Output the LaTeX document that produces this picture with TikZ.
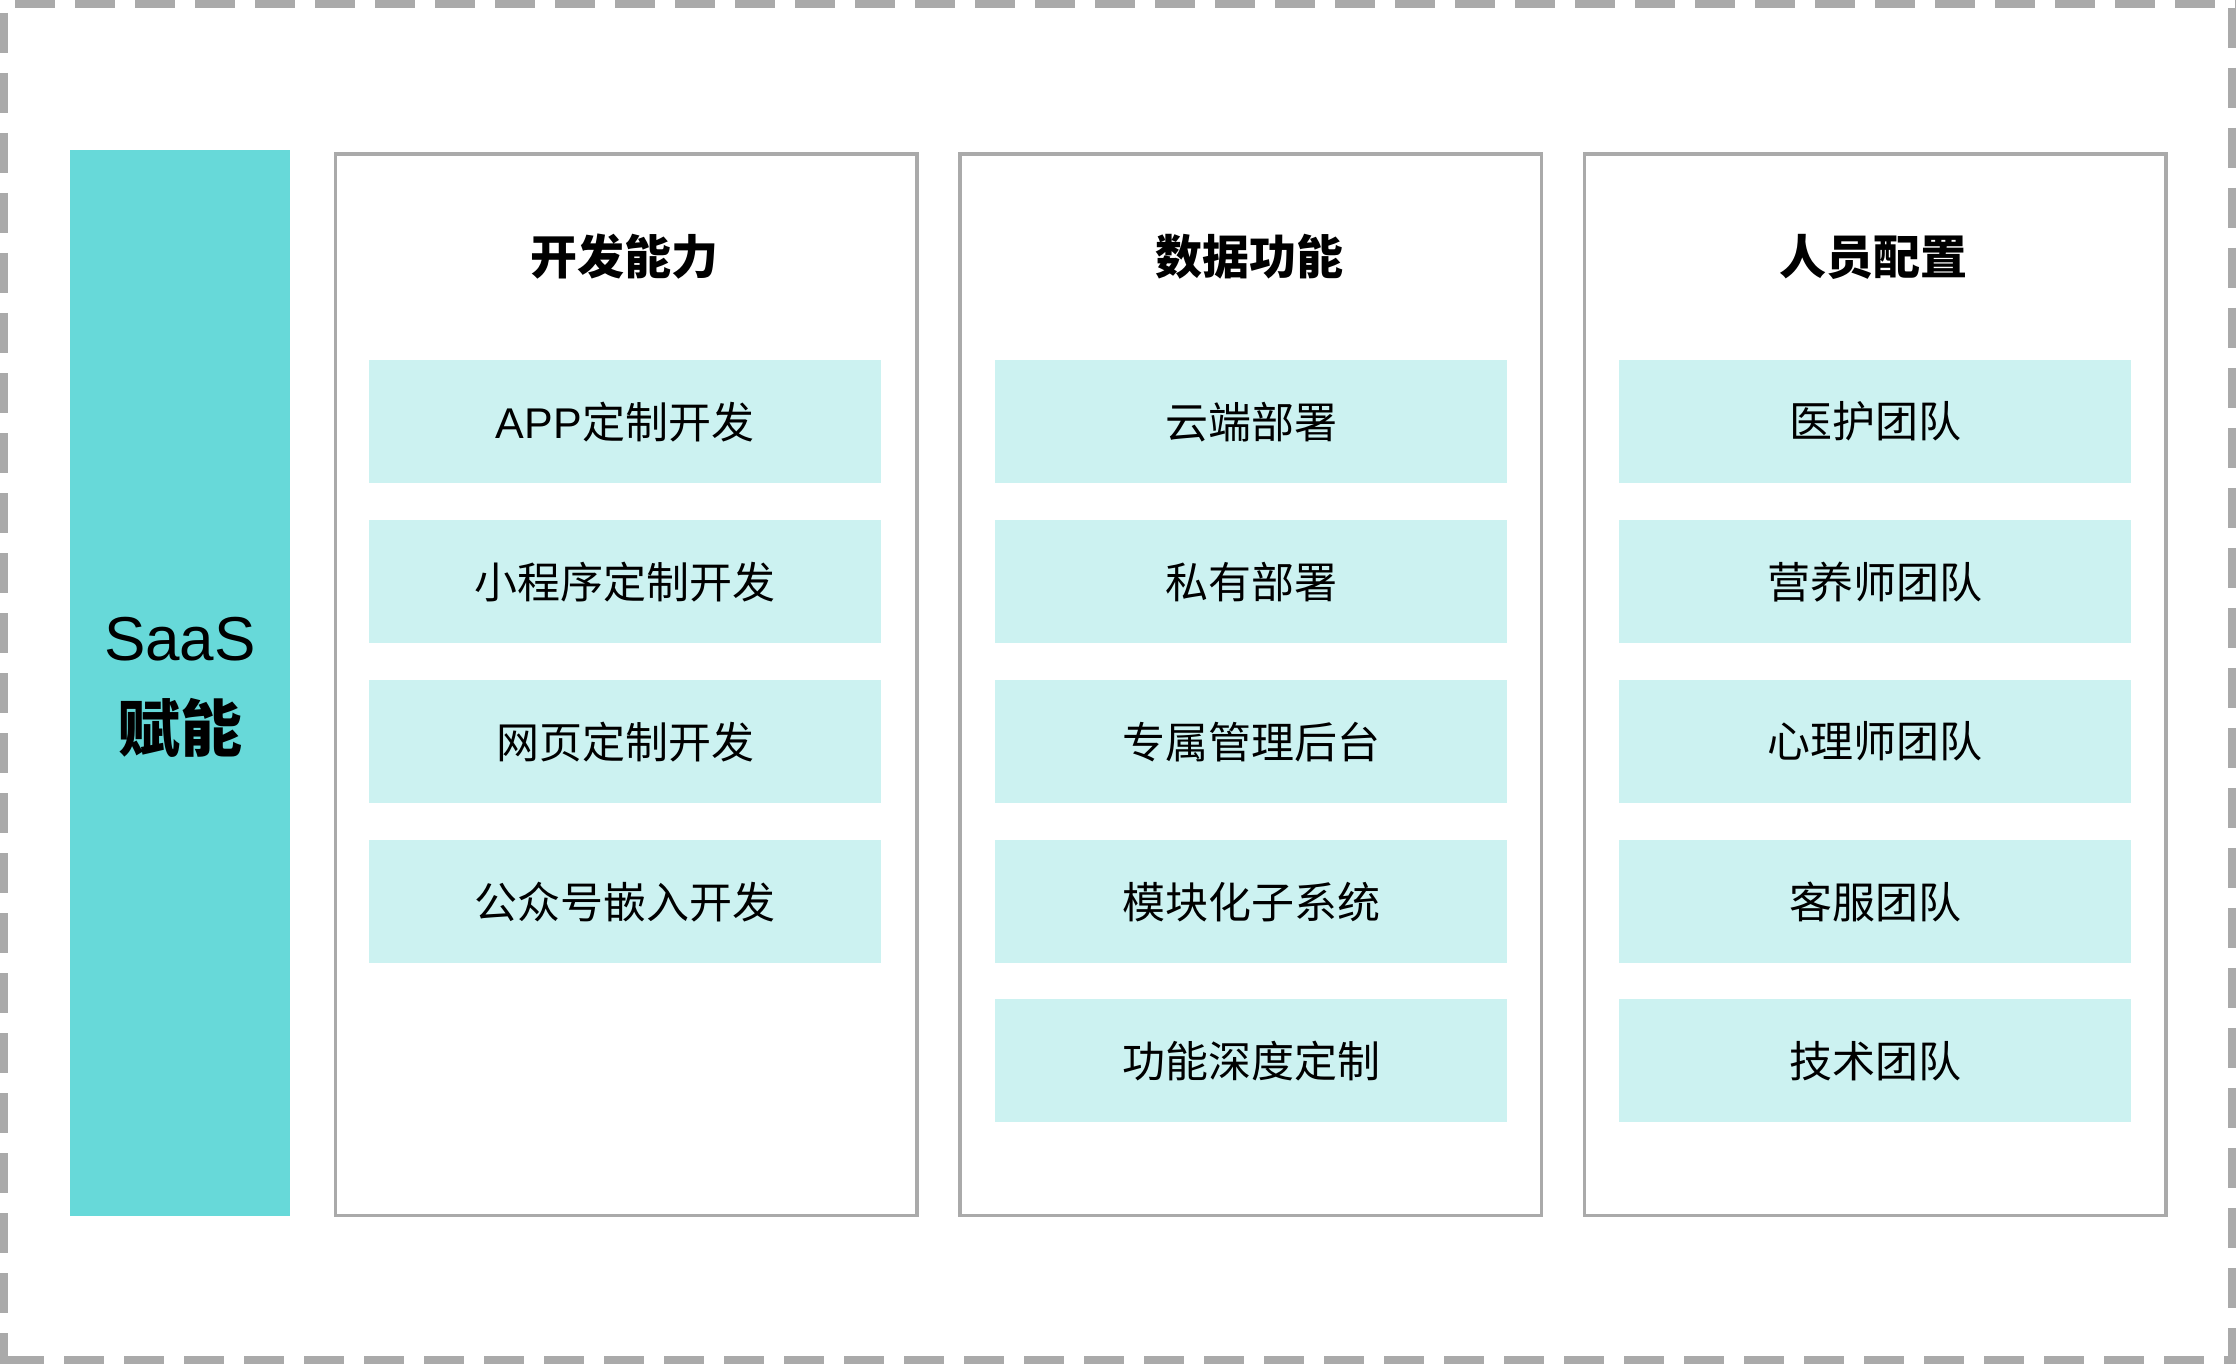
\documentclass[tikz,border=0pt]{standalone}
\usepackage{fontspec}
\setmainfont{Noto Sans CJK SC}
\newfontfamily\latinfont{Liberation Sans}
\definecolor{bordergray}{HTML}{AAAAAA}
\definecolor{tealbar}{HTML}{67D9D9}
\definecolor{itemfill}{HTML}{CCF2F1}
\begin{document}
\begin{tikzpicture}[x=1pt,y=-1pt,
  panelbox/.style={draw=bordergray, line width=3.5pt, fill=white, inner sep=0pt, minimum width=581.5pt, minimum height=1061.5pt, anchor=north west},
  itembox/.style={fill=itemfill, inner sep=0pt, minimum width=512pt, minimum height=123pt, anchor=north, font=\fontsize{43}{50}\selectfont},
  titletext/.style={inner sep=0pt, font=\fontsize{47}{54}\selectfont\bfseries},
  dashline/.style={draw=bordergray, line width=8pt, dash pattern=on 40pt off 20pt}]
\useasboundingbox (0,0) rectangle (2236,1364);
\fill[white] (0,0) rectangle (2236,1364);
% outer dashed frame
\draw[dashline, dash phase=45pt] (0,4) -- (2236,4);
\draw[dashline, dash phase=56pt] (0,1360) -- (2236,1360);
\draw[dashline, dash phase=47pt] (4,0) -- (4,1364);
\draw[dashline, dash phase=52pt] (2232,0) -- (2232,1364);
% left bar
\node[fill=tealbar, inner sep=0pt, minimum width=220pt, minimum height=1066pt, anchor=north west] (bar) at (70,150) {};
\node[inner sep=0pt, font=\fontsize{62}{70}\selectfont\latinfont] (saas) at (180,639) {SaaS};
\node[inner sep=0pt, font=\fontsize{62}{70}\selectfont\bfseries] (funeng) at (180,728) {赋能};
% panels
\foreach \k/\px in {1/333.75, 2/958.25, 3/1582.75} {
  \node[panelbox] (p\k) at (\px,152.25) {};
}
\node[titletext] (t1) at (624.5,257) {开发能力};
\node[titletext] (t2) at (1249,257) {数据功能};
\node[titletext] (t3) at (1873.5,257) {人员配置};
% panel 1 items
\node[itembox] (a1) at (625,360) {{\latinfont APP}定制开发};
\node[itembox] (a2) at (625,520) {小程序定制开发};
\node[itembox] (a3) at (625,680) {网页定制开发};
\node[itembox] (a4) at (625,840) {公众号嵌入开发};
% panel 2 items
\node[itembox] (b1) at (1251,360) {云端部署};
\node[itembox] (b2) at (1251,520) {私有部署};
\node[itembox] (b3) at (1251,680) {专属管理后台};
\node[itembox] (b4) at (1251,840) {模块化子系统};
\node[itembox] (b5) at (1251,999) {功能深度定制};
% panel 3 items
\node[itembox] (c1) at (1875,360) {医护团队};
\node[itembox] (c2) at (1875,520) {营养师团队};
\node[itembox] (c3) at (1875,680) {心理师团队};
\node[itembox] (c4) at (1875,840) {客服团队};
\node[itembox] (c5) at (1875,999) {技术团队};
\end{tikzpicture}
\end{document}
